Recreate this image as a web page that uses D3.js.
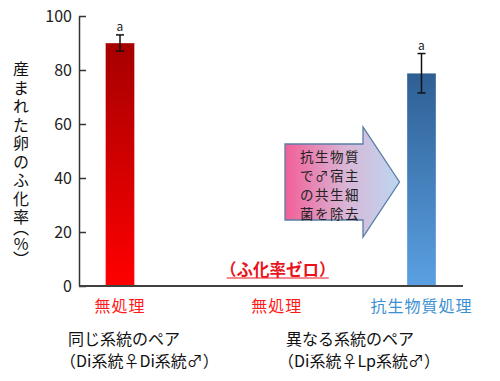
<!DOCTYPE html>
<html><head><meta charset="utf-8">
<script src="https://cdn.jsdelivr.net/npm/d3@7"></script>
<style>
body{margin:0;background:#fff;}
text{font-family:"Noto Sans CJK JP","Noto Sans",sans-serif;}
.ytitle{writing-mode:vertical-rl;text-orientation:upright;font-family:"Noto Sans CJK JP","Noto Sans",sans-serif;font-size:16px;line-height:26px;color:#111;white-space:nowrap;margin:0;padding:0;}
.ytitle .m{letter-spacing:2.5px;}
.ytitle .u{font-feature-settings:"vpal";letter-spacing:0;}
</style></head>
<body><svg id="c" width="500" height="381"></svg>
<script>
const categories = ["無処理(同)", "無処理(異)", "抗生物質処理"];
const catLabels = ["無処理", "無処理", "抗生物質処理"];
const values = [90, 0, 78.8];
const errors = [3, 0, 7.3];
const sigLetters = ["a", null, "a"];
const yTicks = [0, 20, 40, 60, 80, 100];
const yTitleMain = "産まれた卵のふ化率";
const yTitleUnit = "（%）";
const groupLabels = [["同じ系統のペア", "（Di系統♀Di系統♂）"], ["異なる系統のペア", "（Di系統♀Lp系統♂）"]];
const arrowText = ["抗生物質", "で♂宿主", "の共生細", "菌を除去"];

const svg = d3.select("#c");
const y = d3.scaleLinear().domain([0, 100]).range([286, 16]);
const x = d3.scaleBand().domain(categories).range([105.5, 436]).paddingInner(0.8076).paddingOuter(0);
const bw = x.bandwidth();
const cx = c => x(c) + bw / 2;

const defs = svg.append("defs");
const gr = defs.append("linearGradient").attr("id", "gRed").attr("x1", 0).attr("y1", 0).attr("x2", 0).attr("y2", 1);
gr.append("stop").attr("offset", 0).attr("stop-color", "#a50000");
gr.append("stop").attr("offset", 1).attr("stop-color", "#ff0000");
const gb = defs.append("linearGradient").attr("id", "gBlue").attr("x1", 0).attr("y1", 0).attr("x2", 0).attr("y2", 1);
gb.append("stop").attr("offset", 0).attr("stop-color", "#2e5f94");
gb.append("stop").attr("offset", 1).attr("stop-color", "#5aa0e2");
const ga = defs.append("linearGradient").attr("id", "gArrow").attr("x1", 0).attr("y1", 0).attr("x2", 1).attr("y2", 0);
ga.append("stop").attr("offset", 0).attr("stop-color", "#f25f98");
ga.append("stop").attr("offset", 0.55).attr("stop-color", "#d8b8d8");
ga.append("stop").attr("offset", 1).attr("stop-color", "#bcd6f0");

// y axis
const ax = svg.append("g").attr("transform", "translate(79,0)")
  .call(d3.axisLeft(y).tickValues(yTicks).tickSizeInner(-7).tickSizeOuter(0).tickPadding(7));
ax.select(".domain").attr("stroke", "#333").attr("stroke-width", 1.5);
ax.selectAll(".tick line").attr("stroke", "#333").attr("stroke-width", 1.5);
ax.selectAll(".tick text").attr("font-family", "'Liberation Sans',Arial,sans-serif").attr("font-size", 16).attr("fill", "#222");

// bars
const fills = ["url(#gRed)", "none", "url(#gBlue)"];
svg.selectAll("rect.bar").data(categories).enter().append("rect").attr("class", "bar")
  .attr("x", c => x(c)).attr("width", bw)
  .attr("y", (c, i) => y(values[i])).attr("height", (c, i) => y(0) - y(values[i]))
  .attr("fill", (c, i) => fills[i]).attr("stroke", "rgba(255,255,255,0.35)").attr("stroke-width", 1);

// baseline
svg.append("line").attr("x1", 79).attr("x2", 463).attr("y1", y(0)).attr("y2", y(0))
  .attr("stroke", "#404040").attr("stroke-width", 2);

// error bars
categories.forEach((c, i) => {
  if (!errors[i]) return;
  const g = svg.append("g").attr("stroke", "#111").attr("stroke-width", 1.5);
  g.append("line").attr("x1", cx(c)).attr("x2", cx(c)).attr("y1", y(values[i] + errors[i])).attr("y2", y(values[i] - errors[i]));
  [values[i] + errors[i], values[i] - errors[i]].forEach(v => {
    g.append("line").attr("x1", cx(c) - 4).attr("x2", cx(c) + 4).attr("y1", y(v)).attr("y2", y(v));
  });
  if (sigLetters[i]) svg.append("text").attr("x", cx(c)).attr("y", y(values[i] + errors[i]) - 4)
    .attr("text-anchor", "middle").attr("font-family", "'Liberation Sans',Arial,sans-serif").attr("font-size", 12).attr("fill", "#222").text(sigLetters[i]);
});

// category labels
const labColors = ["#ff1a1a", "#ff1a1a", "#3b8fd2"];
const labOff = [0, 6, 0];
svg.selectAll("text.cat").data(categories).enter().append("text").attr("class", "cat")
  .attr("x", (c, i) => cx(c) + labOff[i]).attr("y", 312).attr("text-anchor", "middle")
  .attr("font-size", 16).attr("letter-spacing", 1).attr("fill", (c, i) => labColors[i]).text((c, i) => catLabels[i]);

// zero label
const zc = cx(categories[1]) + 7;
svg.append("text").attr("x", zc).attr("y", 275.5).attr("text-anchor", "middle").attr("font-size", 16.5).attr("font-weight", "bold")
  .attr("fill", "#e8141c").text("（ふ化率ゼロ）");
svg.append("line").attr("x1", zc - 51).attr("x2", zc + 51).attr("y1", 278).attr("y2", 278).attr("stroke", "#e8141c").attr("stroke-width", 1);

// group labels
const gx = [68, 286];
groupLabels.forEach((lines, i) => {
  lines.forEach((t, j) => {
    svg.append("text").attr("x", gx[i] - (j ? 8 : 0)).attr("y", 345 + j * 22).attr("font-size", 16).attr("fill", "#111").text(t);
  });
});

// y title (vertical, HTML for upright glyphs)
const fo = svg.append("foreignObject").attr("x", 8).attr("y", 61).attr("width", 26).attr("height", 210);
const div = fo.append("xhtml:div").attr("class", "ytitle");
div.append("xhtml:span").attr("class", "m").text(yTitleMain);
div.append("xhtml:span").attr("class", "u").text(yTitleUnit);

// arrow
const ap = d3.path();
ap.moveTo(285, 144); ap.lineTo(363, 144); ap.lineTo(363, 127); ap.lineTo(399.5, 182);
ap.lineTo(363, 237); ap.lineTo(363, 220); ap.lineTo(285, 220); ap.closePath();
svg.append("path").attr("d", ap.toString()).attr("fill", "url(#gArrow)").attr("stroke", "#5a7ea6").attr("stroke-width", 1.3);
arrowText.forEach((t, i) => {
  svg.append("text").attr("x", 300).attr("y", 162 + i * 19).attr("font-size", 13.5).attr("letter-spacing", 1.5).attr("fill", "#222").text(t);
});
</script></body></html>
